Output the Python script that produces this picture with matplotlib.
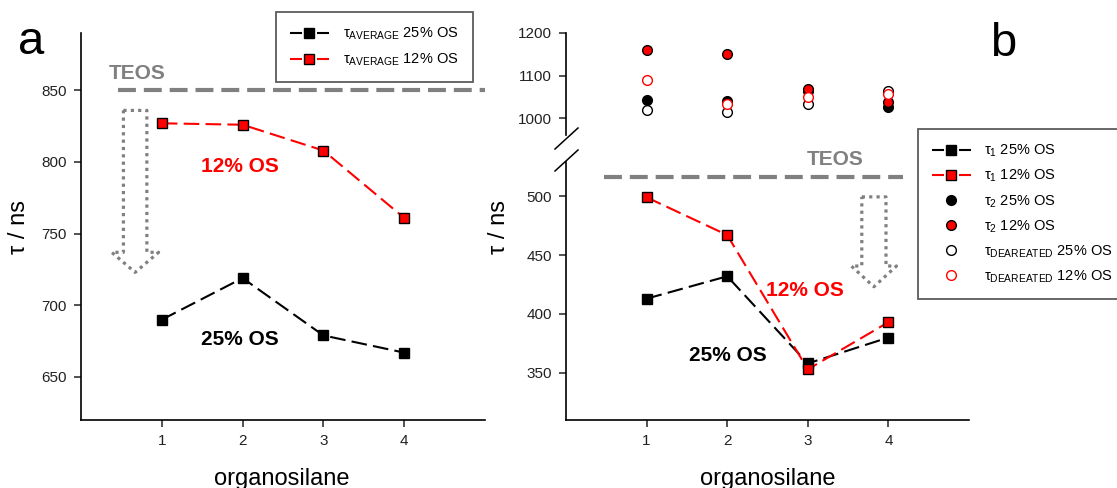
import matplotlib
matplotlib.use("Agg")
import matplotlib.pyplot as plt
from matplotlib.lines import Line2D
from matplotlib.patches import Polygon

plt.rcParams['font.family'] = ['Liberation Sans', 'DejaVu Sans']
plt.rcParams['mathtext.fontset'] = 'custom'
plt.rcParams['mathtext.rm'] = 'Liberation Sans'
plt.rcParams['mathtext.it'] = 'Liberation Sans'
plt.rcParams['mathtext.bf'] = 'Liberation Sans:bold'

# ---------------- data ----------------
organosilane = [1, 2, 3, 4]
teos_avg = 850
teos_tau1 = 516

tau_avg_25 = [690, 719, 679, 667]
tau_avg_12 = [827, 826, 808, 761]

tau1_25 = [413, 432, 358, 380]
tau1_12 = [499, 467, 353, 393]

tau2_25 = [1043, 1040, 1063, 1027]
tau2_12 = [1160, 1150, 1068, 1037]
tau_dear_25 = [1020, 1015, 1033, 1064]
tau_dear_12 = [1089, 1032, 1050, 1056]

xticks = [1, 2, 3, 4]
yticks_a = [650, 700, 750, 800, 850]
yticks_b_low = [350, 400, 450, 500]
yticks_b_up = [1000, 1100, 1200]

# ---------------- figure ----------------
W, H = 1117, 488
fig = plt.figure(figsize=(W / 100, H / 100), dpi=100)

def fx(px):
    return px / W

def fy(py):
    return 1 - py / H

GRAY = '#808080'
RED = '#ff0000'
TICKFS = 11
LABFS = 17
ANNFS = 15
LEGFS = 10.5
LEG_DASH = (5.76, 1.92, 3.36, 1.92)

def style_axis(ax, bottom=True):
    for s in ['top', 'right']:
        ax.spines[s].set_visible(False)
    ax.spines['left'].set_linewidth(1.2)
    ax.spines['bottom'].set_linewidth(1.2)
    if not bottom:
        ax.spines['bottom'].set_visible(False)
        ax.tick_params(axis='x', bottom=False, labelbottom=False)
    ax.tick_params(direction='out', length=5, width=1.1, labelsize=TICKFS,
                   colors='#222222', pad=5)

def dashed(ax, x, y, color):
    ax.plot(x, y, color=color, lw=1.5, dashes=(7.5, 3), marker='s', ms=7.5,
            mfc=color, mec='black', mew=1.0, zorder=3)

def dotted_arrow(ax, xc, top, base, tip, hw_shaft, hw_head):
    verts = [(xc - hw_shaft, top), (xc + hw_shaft, top), (xc + hw_shaft, base),
             (xc + hw_head, base), (xc, tip), (xc - hw_head, base),
             (xc - hw_shaft, base)]
    p = Polygon(verts, closed=True, fill=False, edgecolor=GRAY, lw=2.3,
                linestyle=(0, (1, 1.3)), joinstyle='round', zorder=2)
    ax.add_patch(p)

# ---------------- panel a ----------------
axa = fig.add_axes([fx(81), fy(420), fx(485) - fx(81), fy(33) - fy(420)])
style_axis(axa)
axa.set_xlim(0, 5)
axa.set_ylim(620, 890)
axa.set_xticks(xticks)
axa.set_yticks(yticks_a)
axa.plot([0.455, 5], [teos_avg, teos_avg], color=GRAY, lw=3, dashes=(4.3, 1.9),
         zorder=1, clip_on=False)
dashed(axa, organosilane, tau_avg_25, 'black')
dashed(axa, organosilane, tau_avg_12, RED)
axa.text(0.69, 862, 'TEOS', color=GRAY, fontsize=ANNFS, fontweight='bold',
         ha='center', va='center')
axa.text(1.97, 797, '12% OS', color=RED, fontsize=ANNFS, fontweight='bold',
         ha='center', va='center')
axa.text(1.97, 676, '25% OS', color='black', fontsize=ANNFS, fontweight='bold',
         ha='center', va='center')
dotted_arrow(axa, 0.67, 836, 737, 723, 0.145, 0.29)

la_handles = [
    Line2D([], [], color='black', lw=1.5, dashes=LEG_DASH, marker='s', ms=7,
           mfc='black', mec='black'),
    Line2D([], [], color=RED, lw=1.5, dashes=LEG_DASH, marker='s', ms=7,
           mfc=RED, mec='black'),
]
la_labels = [r'$\tau_{\mathrm{AVERAGE}}$ 25% OS', r'$\tau_{\mathrm{AVERAGE}}$ 12% OS']
lega = fig.legend(la_handles, la_labels, loc='upper left',
                  bbox_to_anchor=(fx(276), fy(12)), bbox_transform=fig.transFigure,
                  borderaxespad=0, fontsize=LEGFS, frameon=True, fancybox=False,
                  edgecolor='#333333', handlelength=2.67, handletextpad=1.0,
                  labelspacing=0.65, borderpad=0.95)
lega.get_frame().set_linewidth(1.3)

# ---------------- panel b ----------------
axb = fig.add_axes([fx(566), fy(420), fx(969) - fx(566), fy(162) - fy(420)])
style_axis(axb)
axb.set_xlim(0, 5)
axb.set_ylim(310, 529)
axb.set_xticks(xticks)
axb.set_yticks(yticks_b_low)
axb.plot([0.47, 4.18], [teos_tau1, teos_tau1], color=GRAY, lw=3,
         dashes=(4.3, 1.9), zorder=1)
dashed(axb, organosilane, tau1_25, 'black')
dashed(axb, organosilane, tau1_12, RED)
axb.text(3.34, 531, 'TEOS', color=GRAY, fontsize=ANNFS, fontweight='bold',
         ha='center', va='center', clip_on=False)
axb.text(2.96, 420, '12% OS', color=RED, fontsize=ANNFS, fontweight='bold',
         ha='center', va='center')
axb.text(2.01, 365, '25% OS', color='black', fontsize=ANNFS, fontweight='bold',
         ha='center', va='center')
dotted_arrow(axb, 3.82, 499.4, 440.7, 423.1, 0.15, 0.28)

axu = fig.add_axes([fx(566), fy(135), fx(969) - fx(566), fy(33) - fy(135)])
style_axis(axu, bottom=False)
axu.set_xlim(0, 5)
axu.set_ylim(960, 1200)
axu.set_yticks(yticks_b_up)
axu.patch.set_alpha(0)
ms_c = 7
axu.plot(organosilane, tau2_25, ls='none', marker='o', ms=ms_c, mfc='black',
         mec='black', mew=1.0, zorder=3)
axu.plot(organosilane, tau2_12, ls='none', marker='o', ms=ms_c, mfc=RED,
         mec='black', mew=1.0, zorder=4)
axu.plot(organosilane, tau_dear_25, ls='none', marker='o', ms=ms_c, mfc='white',
         mec='black', mew=1.0, zorder=5)
axu.plot(organosilane, tau_dear_12, ls='none', marker='o', ms=ms_c, mfc='white',
         mec=RED, mew=1.0, zorder=6)

# axis break marks
for (x0, y0, x1, y1) in [(555, 149, 578, 128), (555, 171, 578, 150)]:
    fig.add_artist(Line2D([fx(x0), fx(x1)], [fy(y0), fy(y1)], color='black',
                          lw=1.1, transform=fig.transFigure))

lb_handles = [
    Line2D([], [], color='black', lw=1.5, dashes=LEG_DASH, marker='s', ms=7,
           mfc='black', mec='black'),
    Line2D([], [], color=RED, lw=1.5, dashes=LEG_DASH, marker='s', ms=7,
           mfc=RED, mec='black'),
    Line2D([], [], ls='none', marker='o', ms=ms_c, mfc='black', mec='black'),
    Line2D([], [], ls='none', marker='o', ms=ms_c, mfc=RED, mec='black'),
    Line2D([], [], ls='none', marker='o', ms=ms_c, mfc='white', mec='black'),
    Line2D([], [], ls='none', marker='o', ms=ms_c, mfc='white', mec=RED),
]
lb_labels = [r'$\tau_{1}$ 25% OS', r'$\tau_{1}$ 12% OS', r'$\tau_{2}$ 25% OS',
             r'$\tau_{2}$ 12% OS', r'$\tau_{\mathrm{DEAREATED}}$ 25% OS',
             r'$\tau_{\mathrm{DEAREATED}}$ 12% OS']
legb = fig.legend(lb_handles, lb_labels, loc='upper left',
                  bbox_to_anchor=(fx(918), fy(129)), bbox_transform=fig.transFigure,
                  borderaxespad=0, fontsize=LEGFS, frameon=True, fancybox=False,
                  edgecolor='#333333', handlelength=2.67, handletextpad=0.9,
                  labelspacing=0.6, borderpad=0.95)
legb.get_frame().set_linewidth(1.3)

# ---------------- labels ----------------
fig.text(fx(31), fy(42), 'a', fontsize=34, ha='center', va='center')
fig.text(fx(1003), fy(44), 'b', fontsize=34, ha='center', va='center')
fig.text(fx(19), fy(227), r'τ / ns', fontsize=LABFS, rotation=90,
         ha='center', va='center')
fig.text(fx(499), fy(227), r'τ / ns', fontsize=LABFS, rotation=90,
         ha='center', va='center')
fig.text(fx(282), fy(485), 'organosilane', fontsize=LABFS, ha='center',
         va='baseline')
fig.text(fx(768), fy(485), 'organosilane', fontsize=LABFS, ha='center',
         va='baseline')

fig.savefig('out.png', dpi=100)
